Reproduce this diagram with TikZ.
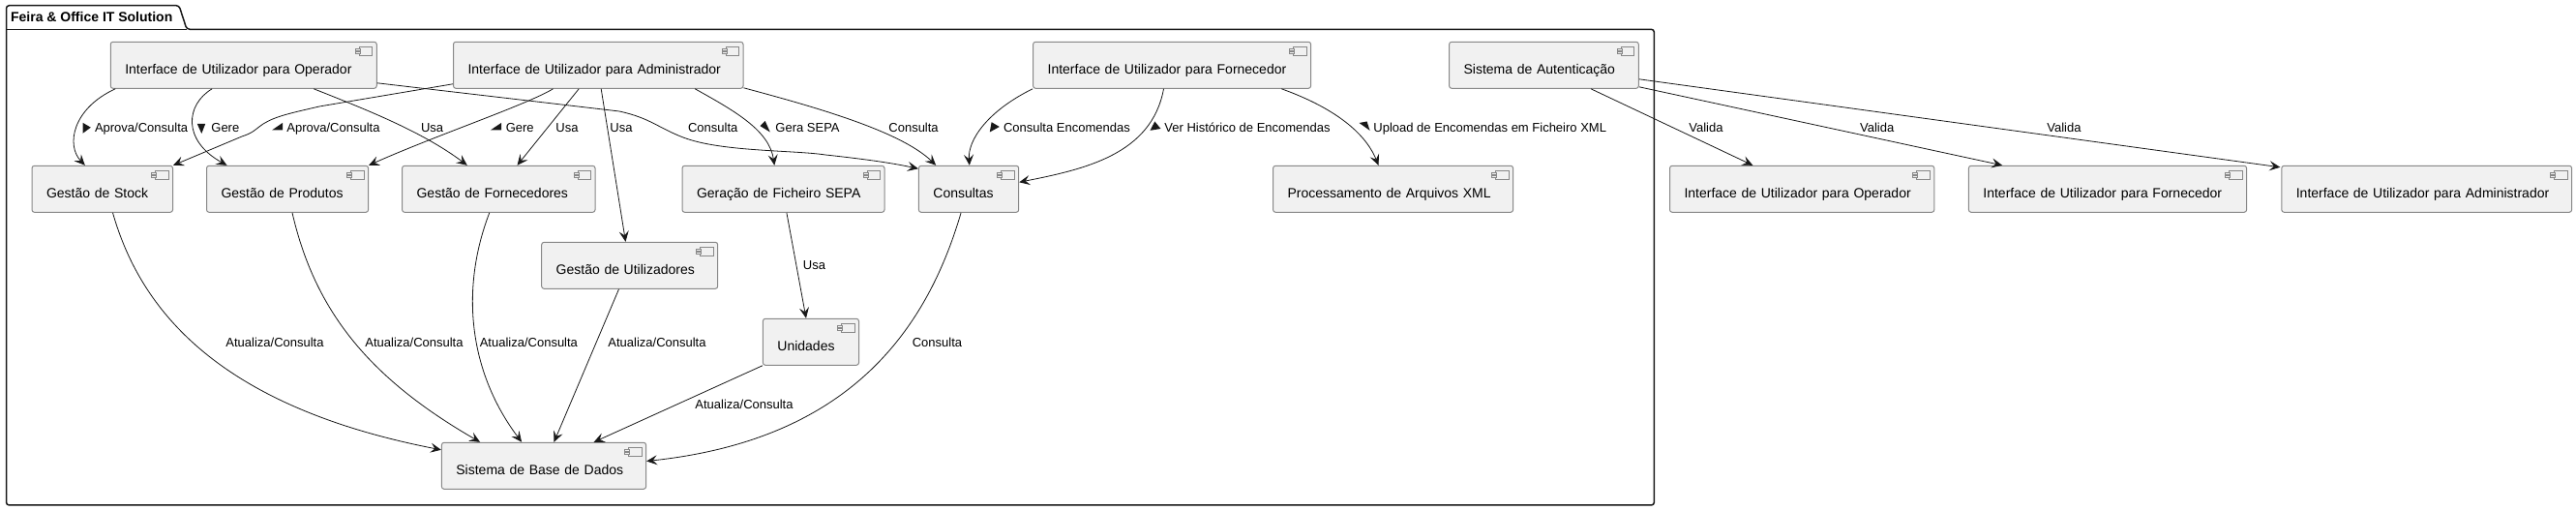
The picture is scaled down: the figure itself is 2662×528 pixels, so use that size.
\documentclass[tikz,border=0pt]{standalone}
\usepackage{fontspec}
\setmainfont{Liberation Sans}
\usetikzlibrary{arrows.meta}
\definecolor{boxfill}{HTML}{F1F1F1}
\definecolor{boxline}{HTML}{888888}
\definecolor{edgeline}{HTML}{181818}
\tikzset{
    compbox/.style={draw=boxline, fill=boxfill, line width=0.5pt, rounded corners=1.25pt,
        inner xsep=7.5pt, inner ysep=0pt, minimum height=24pt, align=left,
        font=\fontsize{7pt}{8pt}\selectfont, text height=11.4pt, text depth=2pt,
        path picture={
            \draw[boxline, line width=0.35pt, sharp corners]
                ([shift={(-18,5)}]path picture bounding box.north east) rectangle
                ([shift={(-4.5,14)}]path picture bounding box.north east);
            \draw[boxline, line width=0.35pt, sharp corners, fill=boxfill]
                ([shift={(-22,7)}]path picture bounding box.north east) rectangle
                ([shift={(-17,9)}]path picture bounding box.north east);
            \draw[boxline, line width=0.35pt, sharp corners, fill=boxfill]
                ([shift={(-22,10.5)}]path picture bounding box.north east) rectangle
                ([shift={(-17,12.5)}]path picture bounding box.north east);
        }},
    conn/.style={draw=edgeline, line width=0.4pt, -{Stealth[length=5.5pt,width=5pt,inset=2.2pt]}},
    lbl/.style={font=\fontsize{6.5pt}{8pt}\selectfont, inner sep=0pt, text height=5pt, text depth=1.3pt},
    dirmark/.style={fill=edgeline, draw=none}
}
\begin{document}
\begin{tikzpicture}[x=0.5pt, y=-0.5pt]
    \useasboundingbox (0,0) rectangle (2662,528);

    % Package frame
    \draw[edgeline, line width=0.75pt, rounded corners=1.5pt]
        (6.5,30.3) -- (6.5,5.7) -- (185,5.7) -- (193,30.3) -- (1709.4,30.3) -- (1709.4,522) -- (6.5,522) -- cycle;
    \draw[edgeline, line width=0.75pt] (6.5,30.3) -- (193,30.3);
    \node[font=\fontsize{7pt}{8pt}\selectfont\bfseries, inner sep=0pt, anchor=base west] (pkgtitle) at (10.7,22.7) {Feira \& Office IT Solution};

    % Top row
    \node[compbox, text width=122.5pt] (opui) at (251.75,67.3) {Interface de Utilizador para Operador};
    \node[compbox, text width=134.75pt] (admui) at (618.25,67.3) {Interface de Utilizador para Administrador};
    \node[compbox, text width=128.5pt] (fornui) at (1211.1,67.3) {Interface de Utilizador para Fornecedor};
    \node[compbox, text width=82.85pt] (auth) at (1595.45,67.3) {Sistema de Autenticação};

    % Second row
    \node[compbox, text width=57.75pt] (stock) at (105.75,195.3) {Gestão de Stock};
    \node[compbox, text width=68.55pt] (prod) at (297.05,195.3) {Gestão de Produtos};
    \node[compbox, text width=84.7pt] (forn) at (515.3,195.3) {Gestão de Fornecedores};
    \node[compbox, text width=89.5pt] (sepa) at (809.5,195.3) {Geração de Ficheiro SEPA};
    \node[compbox, text width=36.65pt] (cons) at (1001.05,195.3) {Consultas};
    \node[compbox, text width=109pt] (xml) at (1439.6,195.3) {Processamento de Arquivos XML};
    \node[compbox, text width=121.65pt] (opui2) at (1862.15,195.3) {Interface de Utilizador para Operador};
    \node[compbox, text width=128.6pt] (fornui2) at (2178,195.3) {Interface de Utilizador para Fornecedor};
    \node[compbox, text width=134.9pt] (admui2) at (2507.7,195.3) {Interface de Utilizador para Administrador};

    % Lower boxes
    \node[compbox, text width=76pt] (util) at (650.7,274.3) {Gestão de Utilizadores};
    \node[compbox, text width=34.55pt] (unid) at (837.95,353.3) {Unidades};
    \node[compbox, text width=90.6pt] (bd) at (562,481.3) {Sistema de Base de Dados};

    % Operator connectors
    \draw[conn] ([shift={(5.5,0)}]opui.south west) .. controls (75,112) and (68,150) .. ([shift={(55.3,0)}]stock.north west);
    \draw[conn] ([shift={(105.4,0)}]opui.south west) .. controls (192,108) and (188,145) .. ([shift={(21.5,0)}]prod.north west);
    \draw[conn] ([shift={(210.5,0)}]opui.south west) .. controls (375,112) and (435,135) .. ([shift={(67.7,0)}]forn.north west);
    \draw[conn] ([shift={(0,-6)}]opui.south east) -- (640,115) .. controls (672,122) and (680,132) .. (706,142) .. controls (745,157) and (820,155) .. (853,160) .. controls (890,164) and (920,168) .. ([shift={(0,3.5)}]cons.north west);

    % Admin connectors
    \draw[conn] ([shift={(0,-5)}]admui.south west) -- (330,110) .. controls (300,117) and (285,120) .. (272,128) .. controls (262,135) and (262,137) .. (250,141) -- (stock.north east);
    \draw[conn] ([shift={(103.5,0)}]admui.south west) .. controls (545,108) and (450,140) .. (prod.north east);
    \draw[conn] ([shift={(130.2,0)}]admui.south west) -- ([shift={(119.4,0)}]forn.north west);
    \draw[conn] ([shift={(153.2,0)}]admui.south west) -- ([shift={(87.3,0)}]util.north west);
    \draw[conn] ([shift={(250.2,0)}]admui.south west) .. controls (760,115) and (795,135) .. ([shift={(95.8,0)}]sepa.north west);
    \draw[conn] ([shift={(0,-1)}]admui.south east) .. controls (840,110) and (930,135) .. ([shift={(18.3,0)}]cons.north west);

    % Supplier connectors
    \draw[conn] (fornui.south west) .. controls (1020,115) and (1000,145) .. ([shift={(52.9,0)}]cons.north west);
    \draw[conn] ([shift={(135.4,0)}]fornui.south west) .. controls (1190,160) and (1120,175) .. ([shift={(0,-7)}]cons.east);
    \draw[conn] ([shift={(257.2,0)}]fornui.south west) .. controls (1375,110) and (1410,135) .. ([shift={(109.4,0)}]xml.north west);

    % Authentication connectors
    \draw[conn] ([shift={(146.9,0)}]auth.south west) -- ([shift={(86.3,0)}]opui2.north west);
    \draw[conn] ([shift={(0,-2)}]auth.south east) -- ([shift={(35.2,0)}]fornui2.north west);
    \draw[conn] ([shift={(0,-10)}]auth.south east) -- ([shift={(-1,2)}]admui2.north west);

    % Database connectors
    \draw[conn] ([shift={(84,0)}]stock.south west) .. controls (145,320) and (225,420) .. ([shift={(0,8)}]bd.north west);
    \draw[conn] ([shift={(89,0)}]prod.south west) .. controls (325,320) and (380,390) .. ([shift={(40.2,0)}]bd.north west);
    \draw[conn] ([shift={(90.7,0)}]forn.south west) .. controls (475,300) and (485,385) .. ([shift={(83.2,0)}]bd.north west);
    \draw[conn] ([shift={(80.3,0)}]util.south west) -- ([shift={(116.6,0)}]bd.north west);
    \draw[conn] (unid.south west) -- ([shift={(157.8,0)}]bd.north west);
    \draw[conn] ([shift={(108.4,0)}]sepa.south west) -- ([shift={(45.1,0)}]unid.north west);
    \draw[conn] ([shift={(44.2,0)}]cons.south west) .. controls (955,350) and (870,455) .. ([shift={(0,-29.3)}]bd.south east);

    % Direction marks
    \fill[dirmark] (85.5,126.8) -- (85.5,137.8) -- (93.8,131.7) -- cycle;
    \fill[dirmark] (203.8,128) -- (212.2,128) -- (208.3,138) -- cycle;
    \fill[dirmark] (281,134.5) -- (292.2,134.5) -- (292.2,126.8) -- cycle;
    \fill[dirmark] (506.8,134.5) -- (518.2,134.5) -- (518.2,126.8) -- cycle;
    \fill[dirmark] (785.5,130.2) -- (790.7,125) -- (795.8,136.5) -- cycle;
    \fill[dirmark] (1022.8,136.5) -- (1024.6,126.2) -- (1032.8,131) -- cycle;
    \fill[dirmark] (1188.5,134.8) -- (1193.3,125.5) -- (1199.5,133) -- cycle;
    \fill[dirmark] (1404.5,127) -- (1412.6,125.5) -- (1415.5,134.8) -- cycle;

    % Edge labels, row one
    \node[lbl, anchor=west] (la) at (97.6,132.7) {Aprova/Consulta};
    \node[lbl, anchor=west] (lb) at (218,132.7) {Gere};
    \node[lbl, anchor=west] (lc) at (296,132.7) {Aprova/Consulta};
    \node[lbl, anchor=west] (ld) at (434.6,132.7) {Usa};
    \node[lbl, anchor=west] (le) at (522.4,132.7) {Gere};
    \node[lbl, anchor=west] (lf) at (574,132.7) {Usa};
    \node[lbl, anchor=west] (lg) at (630,132.7) {Usa};
    \node[lbl, anchor=west] (lh) at (710.7,132.7) {Consulta};
    \node[lbl, anchor=west] (li) at (801,132.7) {Gera SEPA};
    \node[lbl, anchor=west] (lj) at (918,132.7) {Consulta};
    \node[lbl, anchor=west] (lk) at (1036.6,132.7) {Consulta Encomendas};
    \node[lbl, anchor=west] (ll) at (1203,132.7) {Ver Histórico de Encomendas};
    \node[lbl, anchor=west] (lm) at (1419,132.7) {Upload de Encomendas em Ficheiro XML};
    \node[lbl, anchor=west] (ln) at (1745,132.7) {Valida};
    \node[lbl, anchor=west] (lo) at (1921.7,132.7) {Valida};
    \node[lbl, anchor=west] (lp) at (2115,132.7) {Valida};

    % Edge labels, lower rows
    \node[lbl, anchor=west] (lq) at (829.5,275.3) {Usa};
    \node[lbl, anchor=west] (lr) at (233,354.7) {Atualiza/Consulta};
    \node[lbl, anchor=west] (ls) at (377,354.7) {Atualiza/Consulta};
    \node[lbl, anchor=west] (lt) at (495.4,354.7) {Atualiza/Consulta};
    \node[lbl, anchor=west] (lu) at (628,354.7) {Atualiza/Consulta};
    \node[lbl, anchor=west] (lv) at (942.4,354.7) {Consulta};
    \node[lbl, anchor=west] (lw) at (718,418.7) {Atualiza/Consulta};
\end{tikzpicture}
\end{document}
